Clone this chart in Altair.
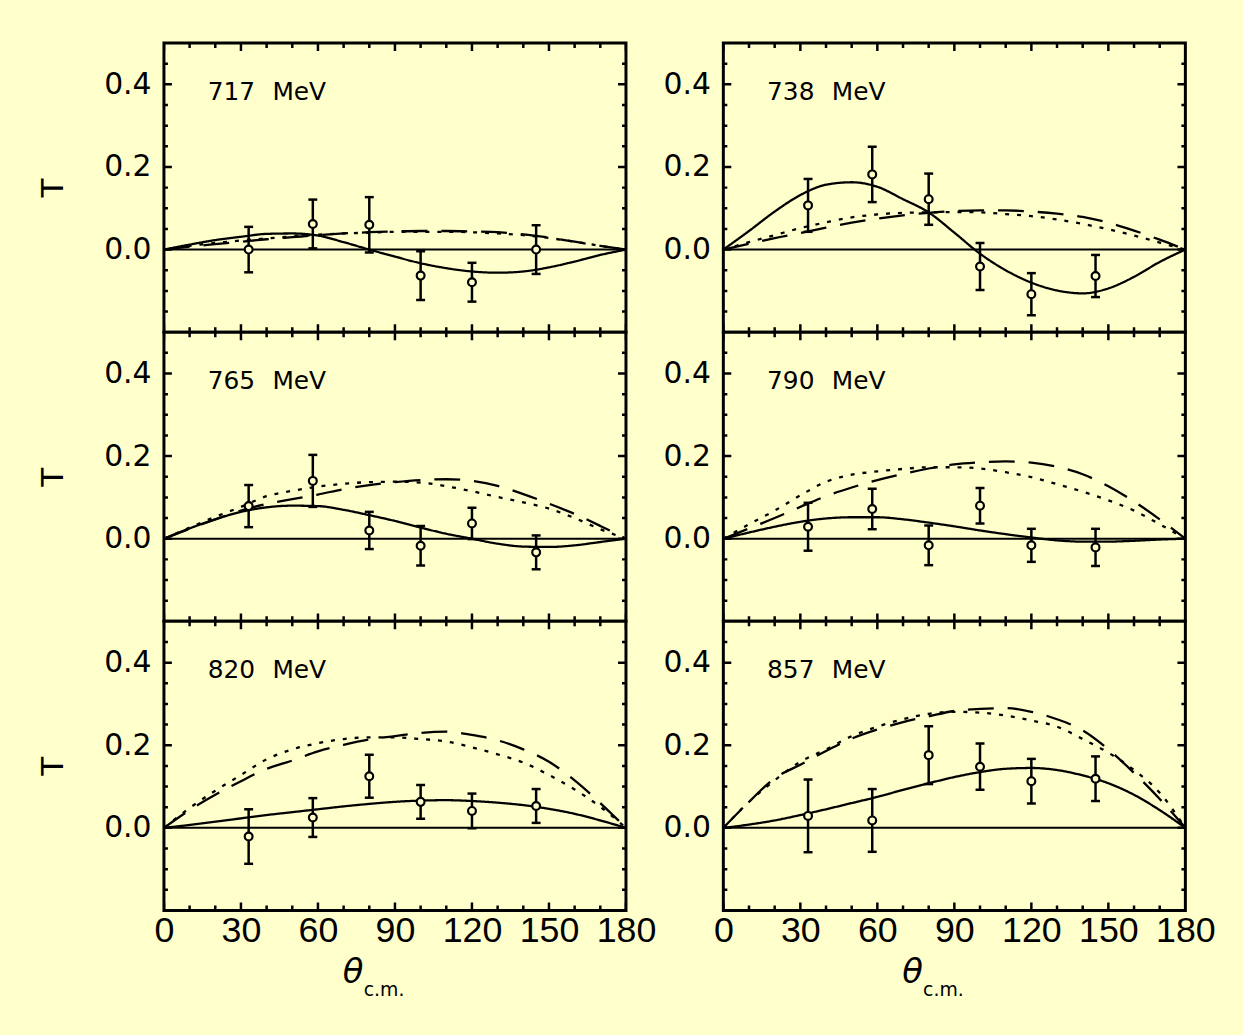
import altair as alt
import pandas as pd

BG = "#FFFFCC"
FONT = "DejaVu Sans"

# ---------------- data ----------------
energies = ["717", "738", "765", "790", "820", "857"]
theta_data = [33, 58, 80, 100, 120, 145]

T_717 = [0.0, 0.062, 0.06, -0.063, -0.079, 0.0]
E_717 = [0.055, 0.059, 0.067, 0.059, 0.047, 0.059]
T_738 = [0.107, 0.182, 0.122, -0.041, -0.108, -0.064]
E_738 = [0.064, 0.067, 0.062, 0.057, 0.051, 0.051]
T_765 = [0.079, 0.14, 0.02, -0.017, 0.037, -0.033]
E_765 = [0.051, 0.063, 0.045, 0.048, 0.038, 0.041]
T_790 = [0.029, 0.072, -0.016, 0.08, -0.016, -0.021]
E_790 = [0.058, 0.049, 0.048, 0.043, 0.04, 0.045]
T_820 = [-0.021, 0.025, 0.125, 0.063, 0.041, 0.053]
E_820 = [0.066, 0.047, 0.052, 0.041, 0.042, 0.041]
T_857 = [0.029, 0.018, 0.176, 0.148, 0.113, 0.119]
E_857 = [0.088, 0.076, 0.07, 0.056, 0.054, 0.054]

theta_curve = [0, 10, 20, 30, 40, 50, 60, 70, 80, 90, 100, 110, 120, 130, 140, 150, 160, 170, 180]

solid_717 = [0, 0.012, 0.023, 0.031, 0.038, 0.039, 0.034, 0.018, 0.0, -0.017, -0.033, -0.045, -0.053, -0.056, -0.053, -0.043, -0.029, -0.013, 0]
dashed_717 = [0, 0.007, 0.013, 0.019, 0.025, 0.03, 0.035, 0.039, 0.042, 0.044, 0.045, 0.045, 0.044, 0.042, 0.037, 0.029, 0.019, 0.009, 0]
dotted_717 = [0, 0.009, 0.016, 0.022, 0.027, 0.032, 0.036, 0.039, 0.041, 0.043, 0.043, 0.043, 0.042, 0.039, 0.035, 0.028, 0.019, 0.009, 0]

solid_738 = [0, 0.045, 0.092, 0.132, 0.157, 0.163, 0.152, 0.122, 0.09, 0.041, -0.01, -0.05, -0.08, -0.099, -0.106, -0.094, -0.066, -0.03, 0]
dashed_738 = [0, 0.014, 0.028, 0.04, 0.053, 0.065, 0.075, 0.083, 0.089, 0.093, 0.095, 0.095, 0.092, 0.087, 0.079, 0.065, 0.046, 0.024, 0]
dotted_738 = [0, 0.018, 0.035, 0.052, 0.066, 0.078, 0.085, 0.089, 0.09, 0.091, 0.09, 0.086, 0.081, 0.073, 0.062, 0.049, 0.034, 0.017, 0]

solid_765 = [0, 0.025, 0.047, 0.065, 0.076, 0.08, 0.079, 0.07, 0.057, 0.043, 0.027, 0.012, 0.0, -0.012, -0.019, -0.02, -0.016, -0.008, 0]
dashed_765 = [0, 0.024, 0.047, 0.068, 0.084, 0.096, 0.107, 0.12, 0.13, 0.137, 0.142, 0.144, 0.14, 0.128, 0.108, 0.085, 0.06, 0.031, 0]
dotted_765 = [0, 0.027, 0.053, 0.077, 0.103, 0.116, 0.126, 0.133, 0.137, 0.138, 0.136, 0.127, 0.115, 0.101, 0.088, 0.073, 0.05, 0.023, 0]

solid_790 = [0, 0.015, 0.029, 0.041, 0.049, 0.052, 0.052, 0.047, 0.039, 0.03, 0.02, 0.011, 0.003, -0.004, -0.007, -0.007, -0.005, -0.002, 0]
dashed_790 = [0, 0.025, 0.05, 0.077, 0.103, 0.124, 0.142, 0.157, 0.17, 0.18, 0.185, 0.187, 0.184, 0.174, 0.156, 0.127, 0.09, 0.047, 0]
dotted_790 = [0, 0.035, 0.068, 0.105, 0.138, 0.155, 0.163, 0.169, 0.173, 0.173, 0.17, 0.161, 0.149, 0.132, 0.114, 0.093, 0.068, 0.035, 0]

solid_820 = [0, 0.007, 0.015, 0.023, 0.031, 0.038, 0.045, 0.052, 0.058, 0.063, 0.066, 0.067, 0.065, 0.061, 0.055, 0.046, 0.034, 0.018, 0]
dashed_820 = [0, 0.043, 0.08, 0.113, 0.143, 0.163, 0.185, 0.201, 0.214, 0.222, 0.23, 0.233, 0.225, 0.212, 0.19, 0.16, 0.115, 0.06, 0]
dotted_820 = [0, 0.048, 0.09, 0.128, 0.166, 0.19, 0.205, 0.215, 0.219, 0.219, 0.215, 0.209, 0.195, 0.178, 0.158, 0.128, 0.093, 0.051, 0]

solid_857 = [0, 0.008, 0.018, 0.031, 0.045, 0.06, 0.075, 0.092, 0.108, 0.123, 0.135, 0.143, 0.145, 0.14, 0.127, 0.108, 0.08, 0.043, 0]
dashed_857 = [0, 0.063, 0.12, 0.153, 0.186, 0.216, 0.238, 0.256, 0.27, 0.283, 0.288, 0.29, 0.281, 0.263, 0.236, 0.19, 0.133, 0.07, 0]
dotted_857 = [0, 0.063, 0.115, 0.16, 0.19, 0.222, 0.245, 0.263, 0.276, 0.281, 0.279, 0.272, 0.26, 0.245, 0.215, 0.182, 0.14, 0.085, 0]

measured = {"717": (T_717, E_717), "738": (T_738, E_738), "765": (T_765, E_765),
            "790": (T_790, E_790), "820": (T_820, E_820), "857": (T_857, E_857)}
curves = {
    "717": (solid_717, dashed_717, dotted_717),
    "738": (solid_738, dashed_738, dotted_738),
    "765": (solid_765, dashed_765, dotted_765),
    "790": (solid_790, dashed_790, dotted_790),
    "820": (solid_820, dashed_820, dotted_820),
    "857": (solid_857, dashed_857, dotted_857),
}
models = ["solid", "dashed", "dotted"]

x_major = [0, 30, 60, 90, 120, 150, 180]
x_minor = [10, 20, 40, 50, 70, 80, 100, 110, 130, 140, 160, 170]
y_major = [0.0, 0.2, 0.4]
y_minor = [-0.15, -0.1, -0.05, 0.05, 0.1, 0.15, 0.25, 0.3, 0.35, 0.45]
x_domain = [0, 180]
y_domain = [-0.2, 0.5]

W, H = 465, 291


def panel(idx):
    e = energies[idx]
    left = idx % 2 == 0
    bottom = idx >= 4
    xs = alt.Scale(domain=x_domain, nice=False, zero=False)
    ys = alt.Scale(domain=y_domain, nice=False, zero=False)
    if bottom:
        xaxis = alt.Axis(values=x_major, ticks=False, domain=False, grid=False, title=None,
                         labelFlush=False, labelFont="Liberation Sans", labelFontSize=36,
                         labelPadding=3, labelColor="black")
    else:
        xaxis = None
    yaxis = alt.Axis(values=y_major, format=".1f", ticks=False, domain=False, grid=False,
                     title="T" if left else None, titleFont=FONT, titleFontSize=31,
                     titleFontWeight="normal", titlePadding=34, titleColor="black",
                     labelFont=FONT, labelFontSize=30, labelPadding=13, labelColor="black")

    def X(f):
        return alt.X(f, type="quantitative", scale=xs, axis=xaxis)

    def Y(f):
        return alt.Y(f, type="quantitative", scale=ys, axis=yaxis)

    # curves
    rows = []
    for m, vals in zip(models, curves[e]):
        for t, v in zip(theta_curve, vals):
            rows.append({"theta": t, "T": v, "model": m})
    cdf = pd.DataFrame(rows)
    lines = alt.Chart(cdf).mark_line(interpolate="monotone", strokeWidth=2.3, color="black", clip=True).encode(
        x=X("theta"), y=Y("T"),
        strokeDash=alt.StrokeDash("model:N", scale=alt.Scale(domain=models, range=[[1, 0], [26, 14], [4, 8]]), legend=None),
        detail="model:N",
    )

    zdf = pd.DataFrame({"theta": [x_domain[0], x_domain[1]], "T": [0.0, 0.0]})
    zero = alt.Chart(zdf).mark_line(strokeWidth=2, color="black").encode(x=X("theta"), y=Y("T"))

    tv, ev = measured[e]
    pdf = pd.DataFrame({"theta": theta_data, "T": tv, "err": ev})
    pdf["lo"] = pdf["T"] - pdf["err"]
    pdf["hi"] = pdf["T"] + pdf["err"]
    bars = alt.Chart(pdf).mark_rule(strokeWidth=2.5, color="black").encode(
        x=X("theta"), y=Y("lo"), y2="hi")
    caps_lo = alt.Chart(pdf).mark_tick(orient="horizontal", size=9, thickness=2.5, color="black", opacity=1).encode(
        x=X("theta"), y=Y("lo"))
    caps_hi = alt.Chart(pdf).mark_tick(orient="horizontal", size=9, thickness=2.5, color="black", opacity=1).encode(
        x=X("theta"), y=Y("hi"))
    pts = alt.Chart(pdf).mark_point(shape="circle", filled=True, fill=BG, stroke="black", strokeWidth=2.2,
                                    size=62, opacity=1).encode(x=X("theta"), y=Y("T"))

    # inward ticks (clipped ticks centred on the frame)
    ymaj = pd.DataFrame([{"edge": ed, "v": v} for ed in x_domain for v in y_major])
    ymin = pd.DataFrame([{"edge": ed, "v": v} for ed in x_domain for v in y_minor])
    xmaj = pd.DataFrame([{"v": v, "edge": ed} for ed in y_domain for v in x_major])
    xmin = pd.DataFrame([{"v": v, "edge": ed} for ed in y_domain for v in x_minor])
    t1 = alt.Chart(ymaj).mark_tick(orient="horizontal", size=16, thickness=2.5, color="black", opacity=1, clip=True).encode(
        x=X("edge"), y=Y("v"))
    t2 = alt.Chart(ymin).mark_tick(orient="horizontal", size=8, thickness=2.5, color="black", opacity=1, clip=True).encode(
        x=X("edge"), y=Y("v"))
    t3 = alt.Chart(xmaj).mark_tick(orient="vertical", size=16, thickness=2.5, color="black", opacity=1, clip=True).encode(
        x=X("v"), y=Y("edge"))
    t4 = alt.Chart(xmin).mark_tick(orient="vertical", size=10, thickness=2.5, color="black", opacity=1, clip=True).encode(
        x=X("v"), y=Y("edge"))

    ldf = pd.DataFrame({"label": [e + "\u2002\u2009MeV"]})
    lab = alt.Chart(ldf).mark_text(align="left", baseline="alphabetic", font=FONT, fontSize=25, color="black").encode(
        text="label:N", x=alt.value(44), y=alt.value(57))

    layers = [lines, zero, bars, caps_lo, caps_hi, pts, t1, t2, t3, t4, lab]
    if bottom:
        tdf = pd.DataFrame({"sym": ["\u03b8"], "sub": ["c.m."]})
        th = alt.Chart(tdf).mark_text(align="left", baseline="alphabetic", font=FONT, fontSize=34,
                                      fontStyle="italic", color="black").encode(
            text="sym:N", x=alt.value(180), y=alt.value(H + 73))
        sub = alt.Chart(tdf).mark_text(align="left", baseline="alphabetic", font=FONT, fontSize=19,
                                       color="black").encode(
            text="sub:N", x=alt.value(201), y=alt.value(H + 86))
        layers += [th, sub]
    return alt.layer(*layers).properties(width=W, height=H)


chart = alt.concat(*[panel(i) for i in range(6)], columns=2,
                   spacing=alt.RowColnumber(row=0, column=98), bounds="flush").properties(
    background=BG, padding={"left": 36, "top": 38, "right": 26, "bottom": 30}
).configure_view(stroke="black", strokeWidth=3, fill=BG)

chart.save("out.html", embed_options={"renderer": "svg", "actions": False})
